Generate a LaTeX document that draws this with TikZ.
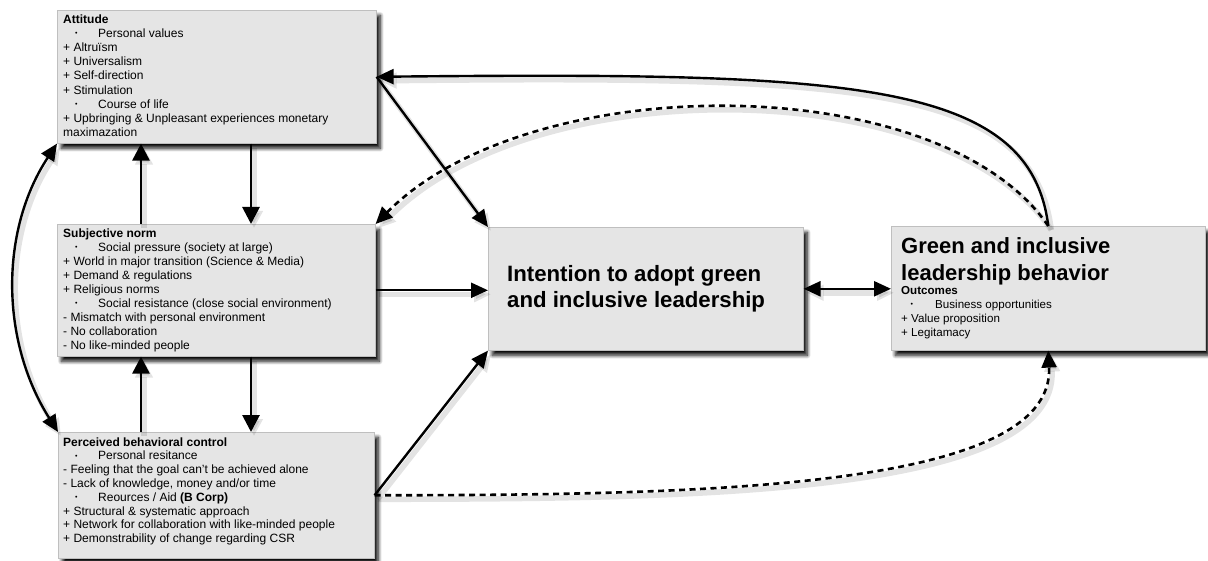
\documentclass[tikz,border=0pt]{standalone}
\usepackage{fontspec}
\setmainfont{Liberation Sans}
\usetikzlibrary{arrows.meta,shadows.blur}

\newcommand\bul{\hspace*{12pt}\makebox[23pt][l]{\raisebox{1.8pt}{\fontsize{7}{7}\selectfont •}}}
\newcommand\bulg{\hspace*{9.5pt}\makebox[24.5pt][l]{\raisebox{1.8pt}{\fontsize{7}{7}\selectfont •}}}

\tikzset{
  box/.style={draw=black!25, line width=0.6pt, fill=black!10, anchor=north west, inner sep=0pt,
    blur shadow={shadow xshift=4pt, shadow yshift=-5pt, shadow blur radius=3.5pt, shadow opacity=95, shadow blur steps=12}},
  txt/.style={anchor=north west, inner sep=0pt, align=left},
  shd/.style={preaction={draw=black, opacity=0.11, line width=5.5pt, transform canvas={xshift=3pt,yshift=-4pt}}},
  tip/.style={-{Triangle[length=17pt,width=15pt]}},
  arr/.style={line width=2.4pt, tip, shd},
  arrv/.style={line width=2.8pt, -{Triangle[length=17pt,width=17pt]}, shd},
  arrboth/.style={line width=2.4pt, {Triangle[length=17pt,width=15pt]}-{Triangle[length=17pt,width=15pt]}, shd},
  darr/.style={line width=2.6pt, dash pattern=on 6pt off 4.5pt, tip, shd},
}

\begin{document}
\begin{tikzpicture}[x=1pt,y=-1pt]
\useasboundingbox (0,0) rectangle (1208,561);

% boxes
\node[box, minimum width=319pt, minimum height=133pt] (att) at (57,10) {};
\node[box, minimum width=318pt, minimum height=132pt] (subj) at (57,224) {};
\node[box, minimum width=316pt, minimum height=126pt] (pbc) at (58,432) {};
\node[box, minimum width=315pt, minimum height=123pt] (int) at (488,227) {};
\node[box, minimum width=314pt, minimum height=124pt] (grn) at (891,226) {};

% texts
\node[txt, font=\fontsize{12}{14.2}\selectfont] (attT) at (63,14.3) {%
\textbf{Attitude}\\
\bul Personal values\\
+ Altruïsm\\
+ Universalism\\
+ Self-direction\\
+ Stimulation\\
\bul Course of life\\
+ Upbringing \& Unpleasant experiences monetary\\
maximazation};

\node[txt, font=\fontsize{12}{14.1}\selectfont] (subjT) at (63,228.3) {%
\textbf{Subjective norm}\\
\bul Social pressure (society at large)\\
+ World in major transition (Science \& Media)\\
+ Demand \& regulations\\
+ Religious norms\\
\bul Social resistance (close social environment)\\
- Mismatch with personal environment\\
- No collaboration\\
- No like-minded people};

\node[txt, font=\fontsize{12}{13.8}\selectfont] (pbcT) at (63,437.3) {%
\textbf{Perceived behavioral control}\\
\bul Personal resitance\\
- Feeling that the goal can’t be achieved alone\\
- Lack of knowledge, money and/or time\\
\bul Reources / Aid \textbf{(B Corp)}\\
+ Structural \& systematic approach\\
+ Network for collaboration with like-minded people\\
+ Demonstrability of change regarding CSR};

\node[txt, anchor=west, font=\fontsize{22.2}{26}\bfseries] (intT) at (507,289) {Intention to adopt green\\and inclusive leadership};

\node[txt, font=\fontsize{22}{27}\bfseries] (grnT) at (901,237) {Green and inclusive\\leadership behavior};
\node[txt, font=\fontsize{11.6}{13.9}\selectfont] (grnO) at (901,286.6) {%
\textbf{Outcomes}\\
\bulg Business opportunities\\
+ Value proposition\\
+ Legitamacy};

% connectors
\draw[arr] (att.east) -- (int.north west);
\draw[arr] (grn.north) .. controls (1030,80) and (850,72) .. (att.east);
\draw[darr] (grn.north) .. controls (940,68) and (530,68) .. (subj.north east);
\draw[arr] (subj.east) -- (subj.east -| int.west);
\draw[arr] (pbc.east) -- (int.south west);
\draw[darr] (pbc.east) .. controls (700,495) and (1055,490) .. (grn.south);
\draw[arrboth] (int.east) -- (int.east -| grn.west);

\draw[arrv] ([xshift=194pt]att.south west) -- ([xshift=194pt]subj.north west);
\draw[arrv] ([xshift=84pt]subj.north west) -- ([xshift=84pt]att.south west);
\draw[arrv] ([xshift=194pt]subj.south west) -- ([xshift=193pt]pbc.north west);
\draw[arrv] ([xshift=83pt]pbc.north west) -- ([xshift=84pt]subj.south west);

\draw[arrboth] (att.south west) .. controls (0,230) and (0,340) .. (pbc.north west);
\end{tikzpicture}
\end{document}
